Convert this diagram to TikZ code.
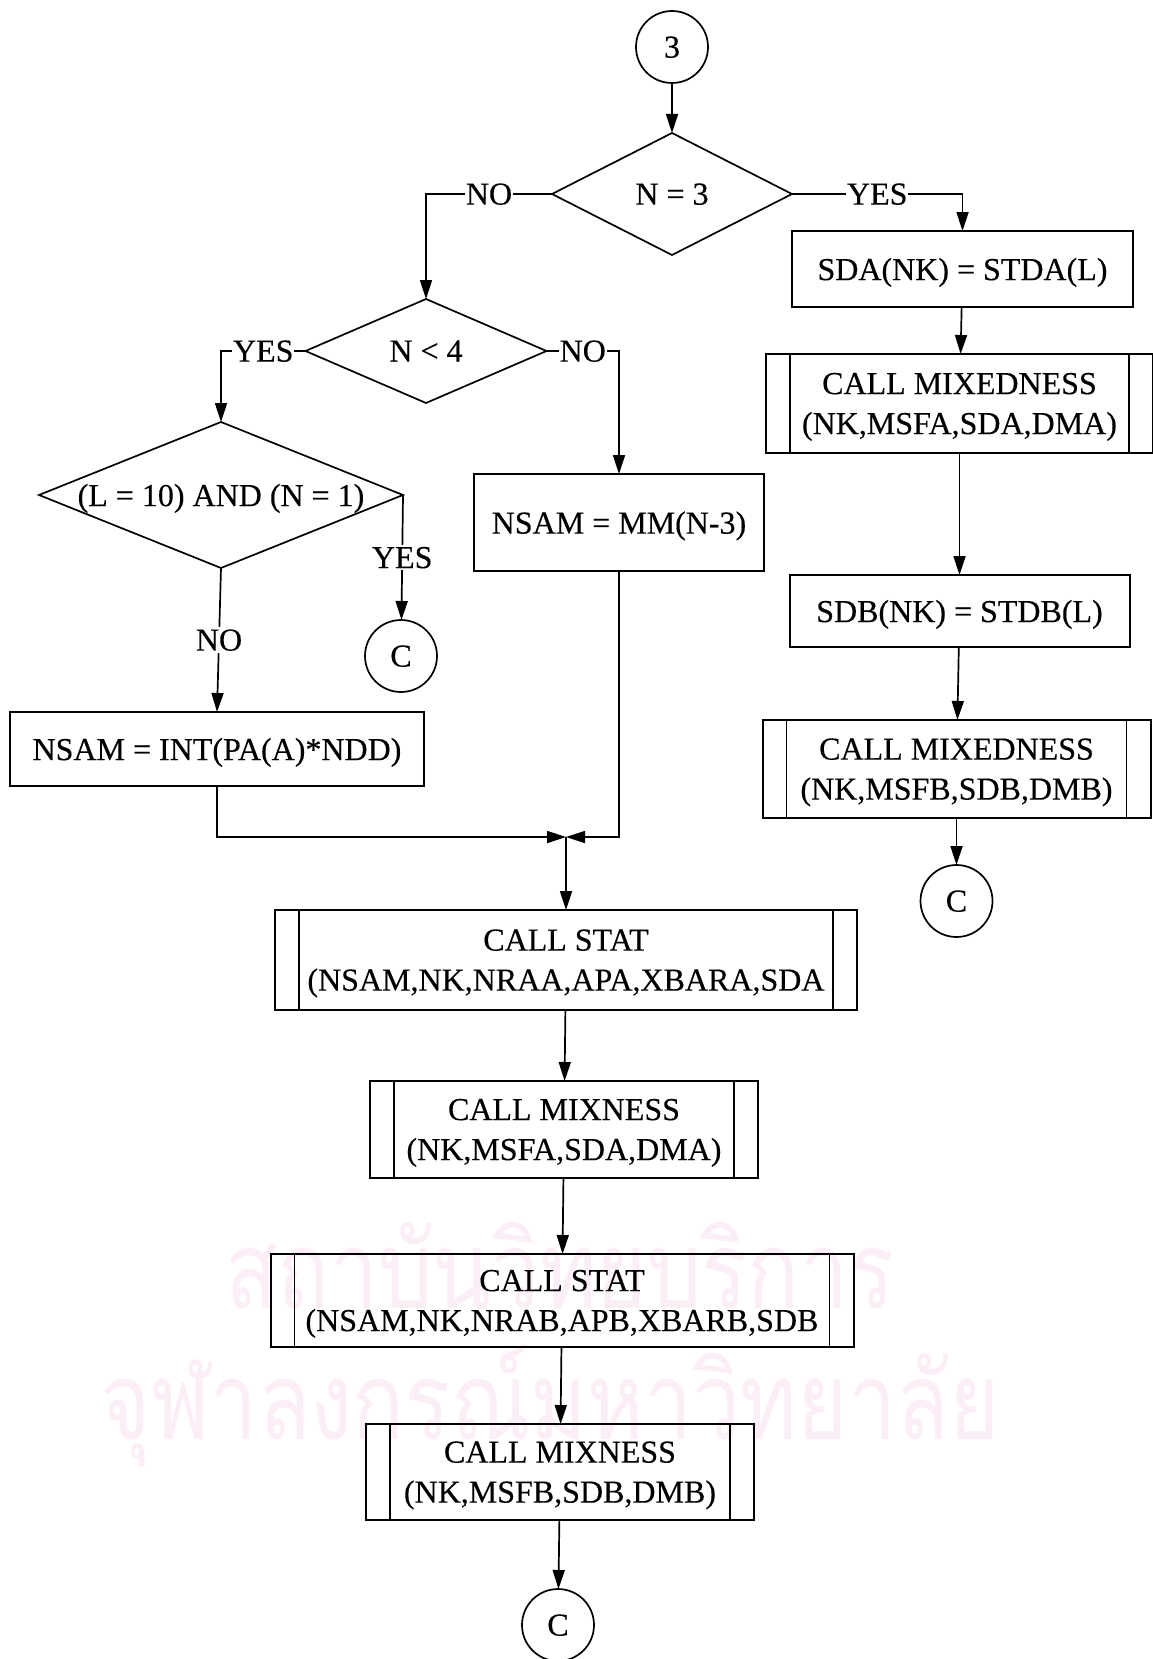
\documentclass[tikz,border=0pt]{standalone}
\usepackage{fontspec}
\setmainfont[FakeBold=0.3]{Liberation Serif}
\newfontfamily\thaifont[Script=Thai]{Loma}
\usepackage{tikz}
\usetikzlibrary{positioning,calc,arrows.meta,shapes.geometric}
\usetikzlibrary{bayesnet}
\definecolor{stampink}{RGB}{252,238,246}
\tikzset{
	every node/.style={font=\fontsize{32}{40}\selectfont, align=center, inner sep=0pt, outer sep=0pt, text depth=0pt},
	flowline/.style={line width=1.7pt, >={Triangle[length=19pt,width=12pt]}},
	terminal/.style={draw, circle, minimum size=72pt, line width=1.7pt},
	decide/.style={draw, diamond, aspect=2, line width=1.7pt},
	procbox/.style={draw, rectangle, line width=2pt},
	callbox/.style={procbox, path picture={
		\draw[line width=1.7pt] ([xshift=24pt]path picture bounding box.north west) -- ([xshift=24pt]path picture bounding box.south west) ;
		\draw[line width=1.7pt] ([xshift=-24pt]path picture bounding box.north east) -- ([xshift=-24pt]path picture bounding box.south east) ;
	}},
	edgelabel/.style={fill=white, inner xsep=1pt, inner ysep=2pt},
	watermark/.style={text=stampink, font=\thaifont\fontsize{86}{100}\selectfont, yscale=1.25, transform shape},
}
\begin{document}
\begin{tikzpicture}[x=1pt, y=1pt]
		\useasboundingbox (0,0) rectangle (1152,-1659) ;
		% Faint stamp behind
		\node[watermark] (Stamp1) at (560,-1265) {สถาบันวิทยบริการ} ;
		\node[watermark] (Stamp2) at (550,-1392) {จุฬาลงกรณ์มหาวิทยาลัย} ;
		% Top
		\node[terminal] (Three) at (672,-47) {3} ;
		\node[decide, below=50pt of Three, minimum width=240pt, minimum height=122pt] (NThree) {N = 3} ;
		% Right
		\node[procbox, right=0pt of NThree.east, yshift=-75pt, minimum width=341pt, minimum height=76pt] (SdaSet) {SDA(NK) = STDA(L)} ;
		\node[callbox, below=47pt of SdaSet, xshift=-3pt, minimum width=387pt, minimum height=99pt] (MixedA) {CALL MIXEDNESS\\(NK,MSFA,SDA,DMA)} ;
		\node[procbox, below=122pt of MixedA, minimum width=340pt, minimum height=72pt] (SdbSet) {SDB(NK) = STDB(L)} ;
		\node[callbox, below=73pt of SdbSet, xshift=-3pt, minimum width=388pt, minimum height=98pt] (MixedB) {CALL MIXEDNESS\\(NK,MSFB,SDB,DMB)} ;
		\node[terminal, below=47pt of MixedB] (RightC) {C} ;
		% Left
		\node[decide, below=44pt of NThree.south, xshift=-246pt, minimum width=241pt, minimum height=104pt] (NFour) {N < 4} ;
		\node[decide, below=19pt of NFour.south, xshift=-205pt, minimum width=364pt, minimum height=146pt] (LTen) {\makebox[0pt]{(L = 10) AND (N = 1)}} ;
		\node[terminal, below=52pt of LTen.south, xshift=180pt] (LeftC) {C} ;
		\node[procbox, below=144pt of LTen.south, xshift=-4pt, minimum width=414pt, minimum height=74pt] (NsamInt) {NSAM = INT(PA(A)*NDD)} ;
		\node[procbox, below=71pt of NFour.south, xshift=193pt, minimum width=290pt, minimum height=97pt] (NsamMm) {NSAM = MM(N-3)} ;
		% Bottom
		\coordinate (Merge) at (566,-837) ;
		\node[callbox, below=73pt of Merge, minimum width=582pt, minimum height=100pt] (StatA) {CALL STAT\\(NSAM,NK,NRAA,APA,XBARA,SDA} ;
		\node[callbox, below=71pt of StatA, xshift=-2pt, minimum width=388pt, minimum height=97pt] (MixA) {CALL MIXNESS\\(NK,MSFA,SDA,DMA)} ;
		\node[callbox, below=76pt of MixA, xshift=-2pt, minimum width=583pt, minimum height=93pt] (StatB) {CALL STAT\\(NSAM,NK,NRAB,APB,XBARB,SDB} ;
		\node[callbox, below=77pt of StatB, xshift=-2pt, minimum width=388pt, minimum height=96pt] (MixB) {CALL MIXNESS\\(NK,MSFB,SDB,DMB)} ;
		\node[terminal, below=69pt of MixB, xshift=-2pt] (BottomC) {C} ;
		% Connectors
		\edge [flowline] {Three} {NThree} ;
		\edge [flowline] {SdaSet} {MixedA} ;
		\edge [flowline] {MixedA} {SdbSet} ;
		\edge [flowline] {SdbSet} {MixedB} ;
		\edge [flowline] {MixedB} {RightC} ;
		\edge [flowline] {Merge} {StatA} ;
		\edge [flowline] {StatA} {MixA} ;
		\edge [flowline] {MixA} {StatB} ;
		\edge [flowline] {StatB} {MixB} ;
		\edge [flowline] {MixB} {BottomC} ;
		\draw[flowline, ->] (NThree.east) -| node[edgelabel, pos=0.25] (YesA) {YES} (SdaSet.north) ;
		\draw[flowline, ->] (NThree.west) -| node[edgelabel, pos=0.25] (NoA) {NO} (NFour.north) ;
		\draw[flowline, ->] (NFour.west) -| node[edgelabel, pos=0.25] (YesB) {YES} (LTen.north) ;
		\draw[flowline, ->] (NFour.east) -| node[edgelabel, pos=0.25] (NoB) {NO} (NsamMm.north) ;
		\draw[flowline, ->] (LTen.east) -- node[edgelabel] (YesC) {YES} (LeftC) ;
		\draw[flowline, ->] (LTen.south) -- node[edgelabel] (NoC) {NO} (NsamInt.north) ;
		\draw[flowline, ->] (NsamInt.south) |- (Merge) ;
		\draw[flowline, ->] (NsamMm.south) |- (Merge) ;
	\end{tikzpicture}
\end{document}
